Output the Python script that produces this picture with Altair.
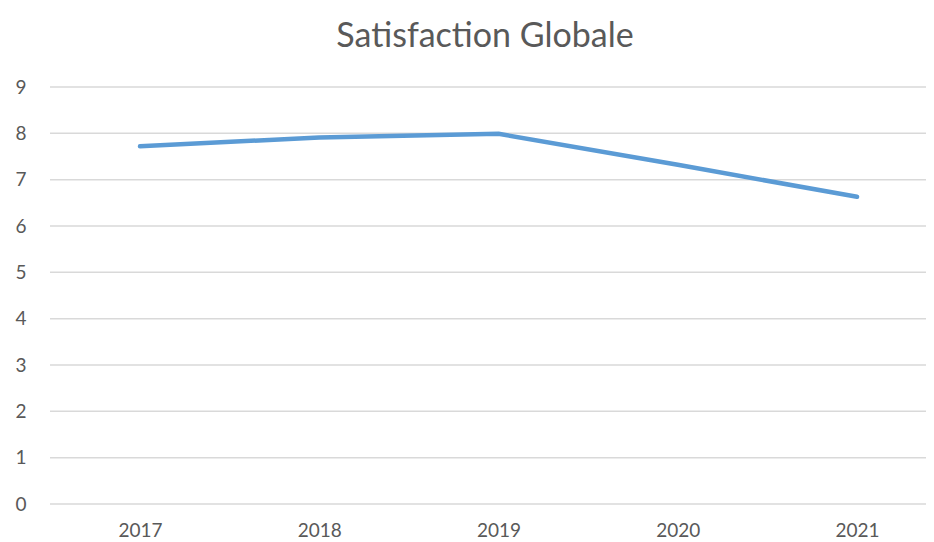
import altair as alt
import pandas as pd

years = ["2017", "2018", "2019", "2020", "2021"]
values = [7.72, 7.91, 7.99, 7.32, 6.63]
y_ticks = [0, 1, 2, 3, 4, 5, 6, 7, 8, 9]
title_text = "Satisfaction Globale"

df = pd.DataFrame({"Année": years, "Satisfaction": values})
grid_df = pd.DataFrame({"tick": y_ticks})
title_df = pd.DataFrame({"label": [title_text]})

FONT = "Lato"
GREY = "#595959"
W = 876
H = 417

y_scale = alt.Scale(domain=[0, 9], nice=False, zero=True)
y_axis = alt.Axis(title=None, values=y_ticks, ticks=False, tickSize=0,
                  domain=False, grid=False, labelPadding=24,
                  labelFontSize=19, labelFont=FONT, labelColor=GREY)

grid = alt.Chart(grid_df).mark_rule(color="#d9d9d9", strokeWidth=1.5).encode(
    y=alt.Y("tick:Q", scale=y_scale, axis=y_axis),
    x=alt.value(0),
    x2=alt.value(W),
)

line = alt.Chart(df).mark_line(
    color="#5b9bd5", strokeWidth=4.5, strokeCap="round", strokeJoin="round"
).encode(
    x=alt.X("Année:O", sort=years,
            scale=alt.Scale(type="point", range=[90, 807], padding=0),
            axis=alt.Axis(title=None, labelAngle=0, ticks=False, tickSize=0,
                          labelPadding=17, labelFontSize=19, labelFont=FONT,
                          labelColor=GREY, domain=False, grid=False)),
    y=alt.Y("Satisfaction:Q", scale=y_scale, axis=y_axis),
)

title = alt.Chart(title_df).mark_text(
    font=FONT, fontSize=34, color=GREY, align="center", baseline="alphabetic"
).encode(
    text="label:N",
    x=alt.value(435),
    y=alt.value(-40),
)

chart = alt.layer(grid, line, title).properties(
    width=W,
    height=H,
    autosize=alt.AutoSizeParams(type="none"),
    padding={"left": 42, "top": 79, "right": 0, "bottom": 36},
).configure_view(stroke=None)

chart.save("out.html", embed_options={"renderer": "svg", "actions": False})
